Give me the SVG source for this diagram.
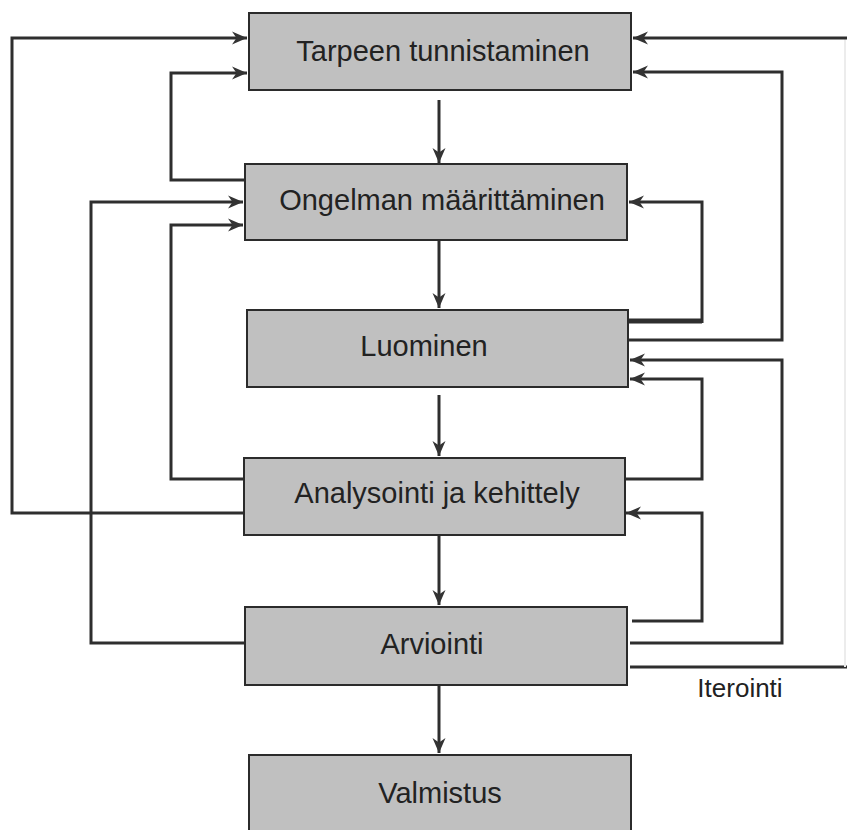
<svg xmlns="http://www.w3.org/2000/svg" width="847" height="830" viewBox="0 0 847 830">
<defs>
<marker id="ah" markerUnits="userSpaceOnUse" markerWidth="18" markerHeight="14" refX="15" refY="7" orient="auto">
<path d="M0,0.5 L15,7 L0,13.5 L4.5,7 z" fill="#333"/>
</marker>
<style>
.box{fill:#c0c0c0;stroke:#2b2b2b;stroke-width:2}
.lbl{font-family:"Liberation Sans",Arial,sans-serif;font-size:29px;fill:#222;text-anchor:middle}
.c{fill:none;stroke:#2e2e2e;stroke-width:3}
.a{marker-end:url(#ah)}
</style>
</defs>
<rect width="847" height="830" fill="#fff"/>
<g id="connectors">
<line class="c a" x1="439" y1="100" x2="439" y2="163"/>
<line class="c a" x1="439" y1="241" x2="439" y2="308"/>
<line class="c a" x1="439" y1="395" x2="439" y2="456"/>
<line class="c a" x1="439" y1="536" x2="439" y2="605"/>
<line class="c a" x1="439" y1="686" x2="439" y2="753"/>
<polyline class="c a" points="244,513 12,513 12,38 247,38"/>
<polyline class="c a" points="245,180 171,180 171,73 247,73"/>
<polyline class="c a" points="245,643 91,643 91,202 243,202"/>
<polyline class="c a" points="244,479 171,479 171,225 243,225"/>
<polyline class="c" points="630,667 847,667"/>
<line x1="845" y1="38" x2="845" y2="667" stroke="#ececec" stroke-width="2"/>
<polyline class="c a" points="847,38 633,38"/>
<polyline class="c a" points="628,340 782,340 782,72 633,72"/>
<polyline class="c" points="628,321 702,321" style="stroke-width:5"/>
<polyline class="c a" points="702,323 702,202 629,202"/>
<polyline class="c a" points="630,643 782,643 782,360 630,360"/>
<polyline class="c a" points="625,479 702,479 702,379 630,379"/>
<polyline class="c a" points="632,621 702,621 702,513 626,513"/>
</g>
<g id="n1"><rect class="box" x="249" y="13" width="382" height="77"/><text class="lbl" x="443" y="61">Tarpeen tunnistaminen</text></g>
<g id="n2"><rect class="box" x="245" y="164" width="382" height="76"/><text class="lbl" x="442" y="210">Ongelman määrittäminen</text></g>
<g id="n3"><rect class="box" x="247" y="310" width="381" height="77"/><text class="lbl" x="424" y="356">Luominen</text></g>
<g id="n4"><rect class="box" x="244" y="458" width="381" height="77"/><text class="lbl" x="437" y="503">Analysointi ja kehittely</text></g>
<g id="n5"><rect class="box" x="245" y="607" width="382" height="78"/><text class="lbl" x="432" y="654">Arviointi</text></g>
<g id="n6"><rect class="box" x="249" y="755" width="382" height="80"/><text class="lbl" x="440" y="803">Valmistus</text></g>
<text x="740" y="697" style="font-family:'Liberation Sans',Arial,sans-serif;font-size:26px;fill:#222;text-anchor:middle">Iterointi</text>
</svg>
